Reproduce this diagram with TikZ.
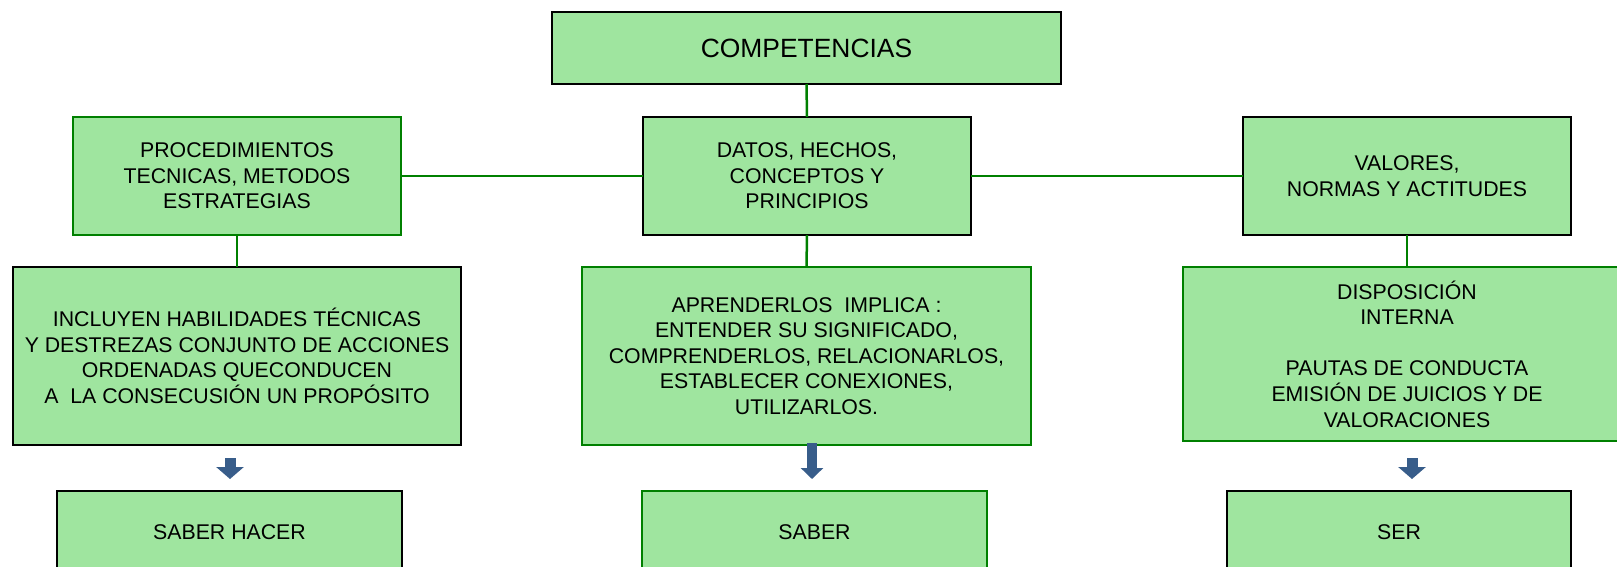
\documentclass[tikz,border=0pt]{standalone}
\usepackage{fontspec}
\setmainfont{Liberation Sans}
\usetikzlibrary{arrows.meta}
\definecolor{boxfill}{RGB}{159,229,159}
\definecolor{lineg}{RGB}{0,128,0}
\definecolor{arrowb}{RGB}{56,93,138}
\begin{document}
\begin{tikzpicture}[x=1pt,y=-1pt,
  box/.style={rectangle, fill=boxfill, line width=2.5pt, align=center, inner sep=0pt, outer sep=0pt, font=\fontsize{21.3pt}{25.6pt}\selectfont},
  blackbox/.style={box, draw=black},
  greenbox/.style={box, draw=lineg},
  conn/.style={draw=lineg, line width=2.5pt},
  smallarrow/.style={draw=arrowb, fill=arrowb, line width=11pt, -{Triangle[width=27pt,length=12pt]}},
  midarrow/.style={draw=arrowb, fill=arrowb, line width=10pt, -{Triangle[width=22pt,length=11pt]}},
]
\useasboundingbox (0,0) rectangle (1617,566);
\clip (0,0) rectangle (1617,566);
\fill[white] (0,0) rectangle (1617,566);

% top
\node[blackbox, minimum width=509pt, minimum height=72pt, font=\fontsize{26.4pt}{30pt}\selectfont] (comp) at (806.5,48) {COMPETENCIAS};

% second row
\node[greenbox, minimum width=328pt, minimum height=118pt] (proc) at (237,176)
  {PROCEDIMIENTOS\\TECNICAS, METODOS\\ESTRATEGIAS};
\node[blackbox, minimum width=328pt, minimum height=118pt] (datos) at (807,176)
  {DATOS, HECHOS,\\CONCEPTOS Y\\PRINCIPIOS};
\node[blackbox, minimum width=328pt, minimum height=118pt] (val) at (1407,176)
  {VALORES,\\NORMAS Y ACTITUDES};

% third row
\node[blackbox, minimum width=448pt, minimum height=178pt] (inc) at (237,356)
  {INCLUYEN HABILIDADES TÉCNICAS\\Y DESTREZAS CONJUNTO DE ACCIONES\\ORDENADAS QUECONDUCEN\\A\ \ LA CONSECUSIÓN UN PROPÓSITO};
\node[greenbox, minimum width=449pt, minimum height=178pt] (apr) at (806.5,356)
  {APRENDERLOS\ \ IMPLICA :\\ENTENDER SU SIGNIFICADO,\\COMPRENDERLOS, RELACIONARLOS,\\ESTABLECER CONEXIONES,\\UTILIZARLOS.};
\node[greenbox, minimum width=448pt, minimum height=174pt] (disp) at (1407,354)
  {DISPOSICIÓN\\INTERNA\\[25.6pt]PAUTAS DE CONDUCTA\\EMISIÓN DE JUICIOS Y DE\\VALORACIONES};

% bottom row
\node[blackbox, minimum width=345pt, minimum height=82pt] (sh) at (229.5,532) {SABER HACER};
\node[greenbox, minimum width=345pt, minimum height=82pt] (sab) at (814.5,532) {SABER};
\node[blackbox, minimum width=344pt, minimum height=82pt] (ser) at (1399,532) {SER};

% connectors
\draw[conn] (comp.south) -- (datos.north);
\draw[conn] (proc.east) -- (datos.west);
\draw[conn] (datos.east) -- (val.west);
\draw[conn] (proc.south) -- (inc.north);
\draw[conn] (datos.south) -- (apr.north);
\draw[conn] (val.south) -- (disp.north);

% block arrows
\draw[smallarrow] ([xshift=-7pt,yshift=-13pt]inc.south) -- ([xshift=0.5pt,yshift=12pt]sh.north);
\draw[midarrow] ([xshift=5.5pt,yshift=2pt]apr.south) -- ([xshift=-2.5pt,yshift=12pt]sab.north);
\draw[smallarrow] ([xshift=5pt,yshift=-17pt]disp.south) -- ([xshift=13pt,yshift=12pt]ser.north);
\end{tikzpicture}
\end{document}
